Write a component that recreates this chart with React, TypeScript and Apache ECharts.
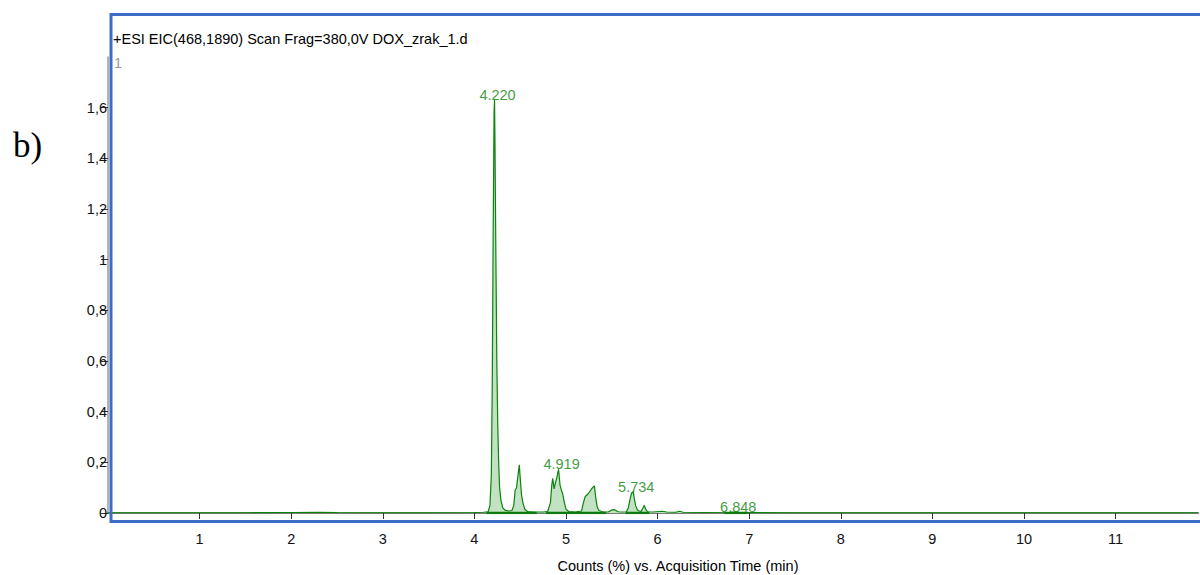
import React, { useEffect, useRef } from "react";
import * as echarts from "echarts";

// Acquisition time (min) and relative counts
const times = [
  0.0, 0.5, 1.0, 1.5, 2.0, 2.3, 2.5, 3.0, 3.5, 4.0, 4.1, 4.15, 4.17, 4.185, 4.195, 4.205, 4.215, 4.22,
  4.225, 4.235, 4.245, 4.255, 4.265, 4.275, 4.29, 4.31, 4.34, 4.38, 4.41, 4.43, 4.445, 4.46, 4.475,
  4.49, 4.5, 4.515, 4.53, 4.55, 4.58, 4.65, 4.75, 4.8, 4.83, 4.845, 4.855, 4.87, 4.885, 4.9, 4.919,
  4.935, 4.95, 4.965, 4.98, 5.0, 5.03, 5.1, 5.17, 5.19, 5.21, 5.24, 5.27, 5.29, 5.31, 5.325, 5.34,
  5.36, 5.4, 5.46, 5.5, 5.53, 5.57, 5.62, 5.66, 5.68, 5.7, 5.715, 5.734, 5.745, 5.76, 5.78, 5.8,
  5.82, 5.84, 5.855, 5.87, 5.89, 5.95, 6.05, 6.1, 6.2, 6.24, 6.28, 6.5, 6.8, 6.848, 6.9, 7.5, 8.0,
  9.0, 10.0, 11.0, 11.9,
];
const counts = [
  0.001, 0.001, 0.001, 0.001, 0.002, 0.003, 0.002, 0.001, 0.001, 0.002, 0.003, 0.005, 0.03, 0.15, 0.5,
  1.1, 1.58, 1.63, 1.45, 1.0, 0.6, 0.35, 0.2, 0.1, 0.05, 0.02, 0.01, 0.008, 0.01, 0.03, 0.09, 0.1,
  0.145, 0.19, 0.14, 0.07, 0.04, 0.015, 0.006, 0.004, 0.004, 0.006, 0.04, 0.11, 0.137, 0.095, 0.12,
  0.14, 0.172, 0.11, 0.09, 0.075, 0.045, 0.015, 0.006, 0.004, 0.008, 0.04, 0.065, 0.075, 0.09, 0.1,
  0.107, 0.06, 0.025, 0.01, 0.005, 0.004, 0.012, 0.013, 0.005, 0.004, 0.005, 0.02, 0.055, 0.078,
  0.084, 0.06, 0.03, 0.012, 0.008, 0.006, 0.02, 0.03, 0.015, 0.005, 0.004, 0.007, 0.004, 0.003,
  0.007, 0.003, 0.002, 0.003, 0.004, 0.002, 0.001, 0.001, 0.001, 0.001, 0.001, 0.001,
];

// Labelled peaks
const peakTimes = [4.22, 4.919, 5.734, 6.848];
const peakHeights = [1.63, 0.172, 0.084, 0.004];

// Integration baselines
const integStart = [4.13, 4.78, 5.65, 6.73];
const integEnd = [4.68, 5.44, 5.91, 6.985];

const yTicks = [0, 0.2, 0.4, 0.6, 0.8, 1.0, 1.2, 1.4, 1.6];
const xTicks = [1, 2, 3, 4, 5, 6, 7, 8, 9, 10, 11];

const titleText = "+ESI EIC(468,1890) Scan Frag=380,0V DOX_zrak_1.d";
const xAxisTitle = "Counts (%) vs. Acquisition Time (min)";

export default function App() {
  const ref = useRef<HTMLDivElement>(null);
  useEffect(() => {
    if (!ref.current) return;
    const chart = echarts.init(ref.current, null, { renderer: "svg" });
    const green = "#0a840a";
    const font = "Liberation Sans, Arial, sans-serif";
    const fs = 14.5;
    const lineData = times.map((t, i) => [t, counts[i]]);
    const baseData: any[] = [];
    integStart.forEach((s, i) => {
      baseData.push([s, 0]);
      baseData.push([integEnd[i], 0]);
      baseData.push([integEnd[i] + 0.001, "-"]);
    });
    chart.setOption({
      animation: false,
      backgroundColor: "#ffffff",
      grid: { left: 108, right: 2, top: 57, bottom: 62 },
      xAxis: {
        type: "value",
        min: 0,
        max: 11.9,
        offset: 12,
        axisLine: { show: true, lineStyle: { color: "#7a7a7a", width: 2 } },
        axisTick: { show: true, length: 6, lineStyle: { color: "#333" }, customValues: xTicks },
        axisLabel: {
          customValues: xTicks,
          color: "#111",
          fontSize: fs,
          fontFamily: font,
          margin: 6,
        },
        splitLine: { show: false },
      },
      yAxis: {
        type: "value",
        min: 0,
        max: 1.8,
        axisLine: { show: true, lineStyle: { color: "#9a9a9a", width: 1.5 } },
        axisTick: { show: true, length: 7, lineStyle: { color: "#333" }, customValues: yTicks },
        axisLabel: {
          customValues: yTicks,
          color: "#111",
          fontSize: fs,
          fontFamily: font,
          margin: 1,
          formatter: (v: number) => (Number.isInteger(v) ? String(v) : v.toFixed(1).replace(".", ",")),
        },
        splitLine: { show: false },
      },
      series: [
        {
          type: "line",
          data: lineData,
          symbol: "none",
          lineStyle: { color: green, width: 1.2 },
          areaStyle: { color: "#c3e2c3", opacity: 1 },
          z: 2,
        },
        {
          type: "line",
          data: baseData,
          symbol: "none",
          connectNulls: false,
          lineStyle: { color: "#0f7a0f", width: 2.5 },
          z: 3,
        },
        {
          type: "scatter",
          data: peakTimes.map((t, i) => [t, peakHeights[i]]),
          symbolSize: 1,
          itemStyle: { color: "rgba(0,0,0,0)" },
          label: {
            show: true,
            position: "top",
            distance: 0,
            offset: [3, 3],
            color: green,
            fontSize: fs,
            fontFamily: font,
            formatter: (p: any) => p.value[0].toFixed(3),
          },
          z: 4,
        },
      ],
      graphic: [
        {
          type: "rect",
          z: 100,
          shape: { x: 111, y: 14.5, width: 1200, height: 507 },
          style: { fill: "none", stroke: "#3a6cc8", lineWidth: 3 },
        },
        {
          type: "text",
          z: 100,
          x: 113,
          y: 39,
          style: { text: titleText, fill: "#000", fontSize: fs, fontFamily: font, verticalAlign: "middle" },
        },
        {
          type: "text",
          z: 100,
          x: 114,
          y: 63,
          style: { text: "1", fill: "#999", fontSize: fs, fontFamily: font, verticalAlign: "middle" },
        },
        {
          type: "text",
          z: 100,
          x: 678,
          y: 566,
          style: {
            text: xAxisTitle,
            fill: "#000",
            fontSize: fs,
            fontFamily: font,
            align: "center",
            verticalAlign: "middle",
          },
        },
        {
          type: "text",
          z: 100,
          x: 13,
          y: 145,
          style: {
            text: "b)",
            fill: "#000",
            fontSize: 35,
            fontFamily: "Liberation Serif, Times New Roman, serif",
            verticalAlign: "middle",
          },
        },
      ],
    });
    return () => chart.dispose();
  }, []);
  return (
    <div
      ref={ref}
      style={{ position: "fixed", left: 0, top: 0, width: 1200, height: 575, background: "#fff" }}
    />
  );
}
